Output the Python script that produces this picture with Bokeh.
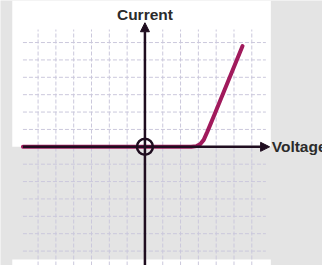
from bokeh.plotting import figure
from bokeh.models import Arrow, NormalHead, Range1d
from bokeh.core.properties import value
from bokeh.embed import file_html
from bokeh.resources import INLINE

# ---- data (diode I-V characteristic, in grid units) ----
voltage = [-6.85, 2.6, 2.9, 3.1, 3.3, 3.5, 3.7, 3.9, 5.48]
current = [0.0, 0.0, 0.04, 0.15, 0.4, 0.86, 1.35, 1.85, 5.8]
grid_ticks = [-6, -5, -4, -3, -2, -1, 1, 2, 3, 4, 5, 6]
x_label = "Voltage"
y_label = "Current"

# extents (grid units)
x_min, x_max = -8.11, 9.97
y_min, y_max = -6.83, 8.42
grid_x0, grid_x1 = -6.85, 6.79
grid_ytop = 6.75
card_x0, card_x1 = -7.45, 7.07
bottom_strip = -6.49
axis_x_tip = 7.0
axis_y_tip = 7.14

BG = "#e4e4e4"
GRID = "#cbc8dc"
AXIS = "#1f0d1f"
CURVE = "#a11a5c"
TEXT = "#2b2b2b"

p = figure(width=322, height=265, output_backend="svg", toolbar_location=None,
           x_range=Range1d(x_min, x_max), y_range=Range1d(y_min, y_max),
           min_border=0, background_fill_color=BG, border_fill_color=BG)
p.axis.visible = False
p.grid.visible = False
p.outline_line_color = None

# white card (upper half) and bottom white strip
p.quad(left=[card_x0, card_x0], right=[card_x1, card_x1],
       bottom=[0, y_min], top=[y_max, bottom_strip],
       fill_color="white", line_color=None)

# dashed grid
p.multi_line(xs=[[t, t] for t in grid_ticks], ys=[[y_min, grid_ytop] for _ in grid_ticks],
             line_color=GRID, line_width=1, line_dash="4 2")
p.multi_line(xs=[[grid_x0, grid_x1] for _ in grid_ticks], ys=[[t, t] for t in grid_ticks],
             line_color=GRID, line_width=1, line_dash="4 2")

# horizontal axis
p.add_layout(Arrow(end=NormalHead(size=9, fill_color=AXIS, line_color=AXIS),
                   x_start=grid_x0, y_start=0, x_end=axis_x_tip, y_end=0,
                   line_color=AXIS, line_width=2.5))

# curve
p.line(voltage, current, line_color=CURVE, line_width=4, line_cap="round", line_join="round")

# vertical axis
p.add_layout(Arrow(end=NormalHead(size=9, fill_color=AXIS, line_color=AXIS),
                   x_start=0, y_start=y_min, x_end=0, y_end=axis_y_tip,
                   line_color=AXIS, line_width=2.5))

# origin circle
p.scatter([0], [0], marker="circle", size=16, fill_alpha=0, line_color=AXIS, line_width=2.5)

# labels
p.text([0], [7.59], text=[y_label], text_align="center", text_baseline="middle",
       text_font=value("Liberation Sans"), text_font_style="bold",
       text_font_size="15.5px", text_color=TEXT)
p.text([7.12], [0], text=[x_label], text_align="left", text_baseline="middle",
       text_font=value("Liberation Sans"), text_font_style="bold",
       text_font_size="15.5px", text_color=TEXT)

html = file_html(p, INLINE)
html = html.replace("<body>", '<body style="background-color:%s">' % BG, 1)
open("out.html", "w").write(html)
